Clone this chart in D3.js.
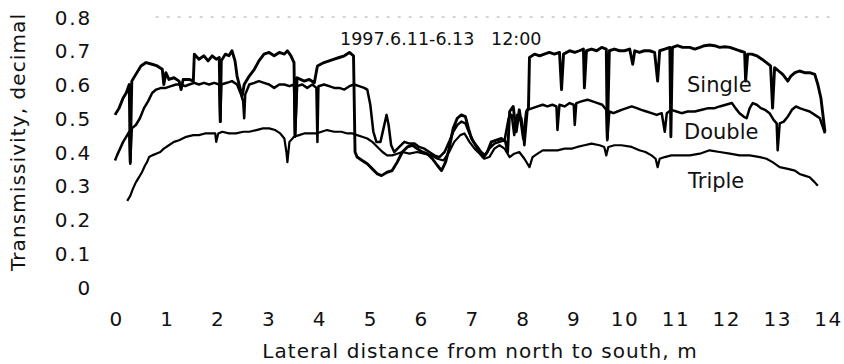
<!DOCTYPE html>
<html>
<head>
<meta charset="utf-8">
<script src="https://cdn.jsdelivr.net/npm/d3@7"></script>
<style>
  html, body { margin: 0; padding: 0; background: #fff; }
  text { font-family: "DejaVu Sans", sans-serif; fill: #111; }
</style>
</head>
<body>
<div id="chart"></div>
<script>
// tick labels
const xTicks = [0,1,2,3,4,5,6,7,8,9,10,11,12,13,14];
const yTicks = [0,0.1,0.2,0.3,0.4,0.5,0.6,0.7,0.8];

// [distance m, transmissivity]
const single = [
  [0.0,0.51],[0.08,0.53],[0.16,0.56],[0.22,0.575],[0.28,0.60],[0.30,0.37],[0.33,0.61],[0.41,0.63],
  [0.51,0.655],[0.61,0.665],[0.73,0.66],[0.83,0.655],[0.93,0.645],[0.96,0.60],[1.0,0.635],[1.06,0.615],
  [1.16,0.62],[1.26,0.61],[1.30,0.585],[1.34,0.615],[1.46,0.615],[1.54,0.61],[1.56,0.69],[1.65,0.675],
  [1.75,0.685],[1.83,0.67],[1.91,0.685],[1.99,0.675],[2.05,0.68],[2.07,0.49],[2.09,0.67],[2.17,0.69],
  [2.24,0.685],[2.30,0.70],[2.36,0.67],[2.40,0.625],[2.50,0.565],[2.54,0.60],[2.64,0.625],[2.74,0.645],
  [2.83,0.67],[2.93,0.69],[3.03,0.695],[3.13,0.685],[3.23,0.695],[3.33,0.69],[3.39,0.70],[3.46,0.685],
  [3.52,0.665],[3.54,0.45],[3.58,0.62],[3.72,0.61],[3.82,0.615],[3.92,0.605],[3.98,0.655],[4.11,0.665],
  [4.21,0.67],[4.31,0.675],[4.41,0.68],[4.51,0.685],[4.61,0.695],[4.69,0.685],[4.72,0.40],[4.76,0.385],
  [4.86,0.375],[4.96,0.365],[5.06,0.35],[5.16,0.335],[5.24,0.33],[5.35,0.34],[5.45,0.345],[5.55,0.37],
  [5.65,0.40],[5.75,0.415],[5.85,0.42],[5.94,0.41],[6.04,0.40],[6.14,0.395],[6.24,0.38],[6.34,0.36],
  [6.42,0.345],[6.50,0.37],[6.57,0.41],[6.65,0.47],[6.73,0.50],[6.81,0.51],[6.89,0.505],[6.95,0.47],
  [7.01,0.44],[7.09,0.42],[7.17,0.40],[7.24,0.385],[7.32,0.40],[7.40,0.43],[7.50,0.435],[7.60,0.44],
  [7.68,0.43],[7.72,0.40],[7.76,0.52],[7.83,0.535],[7.89,0.46],[7.95,0.525],[8.03,0.44],[8.09,0.52],
  [8.13,0.53],[8.15,0.68],[8.25,0.69],[8.35,0.685],[8.44,0.69],[8.54,0.695],[8.64,0.69],[8.74,0.695],
  [8.78,0.585],[8.82,0.69],[8.94,0.70],[9.04,0.695],[9.13,0.70],[9.21,0.705],[9.23,0.59],[9.27,0.70],
  [9.37,0.705],[9.47,0.70],[9.57,0.71],[9.66,0.705],[9.68,0.44],[9.72,0.70],[9.82,0.705],[9.92,0.70],
  [10.02,0.70],[10.12,0.705],[10.18,0.66],[10.22,0.70],[10.31,0.695],[10.41,0.70],[10.51,0.70],[10.61,0.695],
  [10.67,0.61],[10.71,0.70],[10.81,0.705],[10.91,0.71],[10.93,0.445],[10.96,0.71],[11.06,0.715],[11.16,0.71],
  [11.30,0.71],[11.40,0.705],[11.50,0.71],[11.59,0.715],[11.69,0.717],[11.79,0.715],[11.89,0.71],[11.99,0.712],
  [12.09,0.71],[12.19,0.705],[12.28,0.70],[12.38,0.695],[12.40,0.61],[12.44,0.69],[12.52,0.69],[12.62,0.685],
  [12.72,0.675],[12.81,0.665],[12.89,0.655],[12.93,0.53],[12.97,0.65],[13.05,0.64],[13.13,0.63],[13.23,0.61],
  [13.29,0.625],[13.37,0.635],[13.46,0.64],[13.56,0.635],[13.66,0.635],[13.76,0.63],[13.82,0.60],[13.88,0.56],
  [13.96,0.46]
];

const double = [
  [0.0,0.375],[0.04,0.39],[0.10,0.41],[0.16,0.43],[0.22,0.445],[0.28,0.46],[0.30,0.365],[0.33,0.47],
  [0.41,0.48],[0.49,0.50],[0.57,0.53],[0.65,0.55],[0.73,0.575],[0.81,0.585],[0.91,0.59],[1.0,0.59],
  [1.10,0.595],[1.20,0.60],[1.30,0.60],[1.38,0.595],[1.46,0.60],[1.56,0.605],[1.65,0.60],[1.75,0.605],
  [1.85,0.60],[1.95,0.605],[2.05,0.60],[2.07,0.49],[2.09,0.60],[2.20,0.605],[2.30,0.61],[2.40,0.60],
  [2.48,0.57],[2.52,0.55],[2.54,0.50],[2.56,0.57],[2.64,0.60],[2.74,0.605],[2.83,0.61],[2.93,0.605],
  [3.03,0.60],[3.13,0.59],[3.23,0.60],[3.33,0.60],[3.43,0.595],[3.52,0.60],[3.54,0.445],[3.58,0.595],
  [3.68,0.60],[3.78,0.59],[3.88,0.60],[3.96,0.59],[3.98,0.43],[4.00,0.595],[4.11,0.60],[4.21,0.595],
  [4.31,0.59],[4.41,0.59],[4.51,0.585],[4.61,0.595],[4.70,0.60],[4.80,0.595],[4.90,0.59],[4.96,0.585],
  [5.02,0.54],[5.08,0.46],[5.14,0.43],[5.22,0.43],[5.28,0.47],[5.34,0.51],[5.38,0.48],[5.43,0.42],
  [5.49,0.40],[5.59,0.415],[5.69,0.43],[5.79,0.425],[5.89,0.425],[5.98,0.415],[6.08,0.41],[6.18,0.40],
  [6.28,0.39],[6.38,0.385],[6.48,0.40],[6.57,0.43],[6.65,0.46],[6.73,0.48],[6.81,0.49],[6.89,0.485],
  [6.97,0.455],[7.05,0.43],[7.13,0.415],[7.20,0.40],[7.28,0.39],[7.36,0.41],[7.46,0.425],[7.56,0.43],
  [7.66,0.435],[7.74,0.50],[7.80,0.51],[7.85,0.45],[7.91,0.51],[7.99,0.50],[8.05,0.42],[8.11,0.525],
  [8.21,0.53],[8.31,0.535],[8.41,0.54],[8.50,0.535],[8.60,0.54],[8.68,0.535],[8.70,0.465],[8.74,0.54],
  [8.84,0.535],[8.94,0.545],[9.02,0.54],[9.04,0.48],[9.07,0.545],[9.17,0.55],[9.29,0.555],[9.39,0.55],
  [9.49,0.545],[9.58,0.54],[9.66,0.525],[9.68,0.435],[9.72,0.52],[9.80,0.515],[9.88,0.52],[9.96,0.525],
  [10.06,0.53],[10.16,0.535],[10.26,0.53],[10.35,0.525],[10.45,0.52],[10.55,0.515],[10.65,0.51],[10.75,0.515],
  [10.81,0.46],[10.85,0.515],[10.94,0.525],[11.04,0.52],[11.14,0.515],[11.26,0.52],[11.40,0.52],[11.54,0.525],
  [11.67,0.53],[11.79,0.53],[11.89,0.535],[12.01,0.54],[12.13,0.545],[12.20,0.53],[12.28,0.515],[12.36,0.505],
  [12.42,0.50],[12.48,0.53],[12.54,0.545],[12.62,0.54],[12.70,0.53],[12.78,0.525],[12.87,0.515],[12.95,0.495],
  [13.01,0.485],[13.03,0.405],[13.07,0.485],[13.15,0.49],[13.23,0.505],[13.31,0.525],[13.39,0.535],[13.46,0.53],
  [13.56,0.525],[13.66,0.52],[13.76,0.51],[13.86,0.50],[13.96,0.455]
];

const triple = [
  [0.24,0.255],[0.30,0.27],[0.35,0.29],[0.41,0.31],[0.47,0.325],[0.53,0.34],[0.59,0.36],[0.63,0.37],
  [0.67,0.385],[0.73,0.39],[0.81,0.395],[0.89,0.40],[0.96,0.41],[1.06,0.42],[1.16,0.43],[1.26,0.435],
  [1.40,0.445],[1.54,0.45],[1.65,0.45],[1.77,0.455],[1.89,0.455],[1.97,0.455],[1.99,0.43],[2.03,0.455],
  [2.11,0.46],[2.24,0.455],[2.38,0.455],[2.52,0.46],[2.64,0.46],[2.78,0.465],[2.91,0.47],[3.03,0.47],
  [3.15,0.465],[3.25,0.455],[3.33,0.44],[3.37,0.40],[3.39,0.37],[3.43,0.43],[3.52,0.445],[3.62,0.45],
  [3.72,0.455],[3.82,0.455],[3.96,0.455],[4.06,0.46],[4.17,0.465],[4.31,0.46],[4.45,0.46],[4.57,0.455],
  [4.67,0.455],[4.76,0.45],[4.86,0.445],[4.96,0.44],[5.06,0.43],[5.16,0.415],[5.26,0.40],[5.35,0.39],
  [5.45,0.39],[5.55,0.395],[5.65,0.40],[5.79,0.395],[5.94,0.40],[6.08,0.395],[6.22,0.39],[6.34,0.38],
  [6.46,0.375],[6.57,0.40],[6.67,0.43],[6.79,0.45],[6.87,0.455],[6.97,0.43],[7.07,0.41],[7.17,0.395],
  [7.26,0.38],[7.36,0.385],[7.46,0.41],[7.56,0.42],[7.66,0.41],[7.76,0.385],[7.85,0.395],[7.95,0.40],
  [8.05,0.38],[8.15,0.355],[8.21,0.385],[8.31,0.395],[8.41,0.405],[8.54,0.405],[8.70,0.405],[8.84,0.41],
  [8.98,0.41],[9.09,0.415],[9.23,0.42],[9.37,0.425],[9.53,0.42],[9.62,0.415],[9.66,0.39],[9.70,0.415],
  [9.82,0.42],[9.96,0.42],[10.16,0.415],[10.31,0.405],[10.43,0.40],[10.55,0.39],[10.63,0.38],[10.67,0.355],
  [10.71,0.38],[10.81,0.385],[10.94,0.39],[11.10,0.39],[11.30,0.39],[11.50,0.395],[11.69,0.405],[11.89,0.40],
  [12.09,0.395],[12.28,0.39],[12.48,0.39],[12.68,0.385],[12.81,0.38],[12.93,0.37],[13.07,0.355],[13.23,0.35],
  [13.37,0.345],[13.46,0.335],[13.56,0.33],[13.66,0.325],[13.76,0.31],[13.82,0.30]
];

const W = 844, H = 364;

const svg = d3.select("#chart")
  .append("svg")
  .attr("width", W)
  .attr("height", H);

const x = d3.scaleLinear().domain([0, 14]).range([115, 827]);
const y = d3.scaleLinear().domain([0, 0.8]).range([287, 17]);

// faint top frame line
svg.append("line")
  .attr("x1", x(0.8)).attr("x2", x(14.1))
  .attr("y1", y(0.8)).attr("y2", y(0.8))
  .attr("stroke", "#aaa")
  .attr("stroke-width", 1)
  .attr("stroke-dasharray", "3,8");

// x axis (labels only)
const xAxis = svg.append("g")
  .attr("transform", "translate(0,311)")
  .call(d3.axisBottom(x).tickValues(xTicks).tickSize(0).tickPadding(0));
xAxis.select(".domain").remove();
xAxis.selectAll("text")
  .attr("dy", "0.75em")
  .attr("dx", "0.05em")
  .style("font-family", "DejaVu Sans")
  .style("font-size", "20px")
  .style("letter-spacing", "1.5px")
  .attr("fill", "#111");

// y axis (labels only)
const yAxis = svg.append("g")
  .attr("transform", "translate(92,0)")
  .call(d3.axisLeft(y).tickValues(yTicks).tickSize(0).tickPadding(0)
    .tickFormat(d => d === 0 ? "0" : d.toFixed(1)));
yAxis.select(".domain").remove();
yAxis.selectAll("text")
  .attr("dy", "0.36em")
  .style("font-family", "DejaVu Sans")
  .style("font-size", "20px")
  .style("letter-spacing", "1.8px")
  .attr("fill", "#111");

// axis titles
svg.append("text")
  .attr("x", 480).attr("y", 358)
  .attr("text-anchor", "middle")
  .style("font-size", "20px")
  .style("letter-spacing", "1.05px")
  .text("Lateral distance from north to south, m");

svg.append("text")
  .attr("transform", "translate(25,142) rotate(-90)")
  .attr("text-anchor", "middle")
  .style("font-size", "20px")
  .style("letter-spacing", "1.1px")
  .text("Transmissivity, decimal");

// lines
const line = d3.line()
  .x(d => x(d[0]))
  .y(d => y(d[1]));

const series = [
  { data: single, w: 2.9 },
  { data: double, w: 2.5 },
  { data: triple, w: 2.2 }
];

svg.selectAll(".series")
  .data(series)
  .enter()
  .append("path")
  .attr("class", "series")
  .attr("fill", "none")
  .attr("stroke", "#000")
  .attr("stroke-width", d => d.w)
  .attr("stroke-linejoin", "round")
  .attr("d", d => line(d.data));

// annotation
svg.append("text").attr("x", 340).attr("y", 45)
  .style("font-size", "17.5px").text("1997.6.11-6.13");
svg.append("text").attr("x", 491).attr("y", 45)
  .style("font-size", "17.5px").text("12:00");

// series labels
svg.append("text").attr("x", 687).attr("y", 92).style("font-size", "21px").text("Single");
svg.append("text").attr("x", 684).attr("y", 139).style("font-size", "21px").text("Double");
svg.append("text").attr("x", 688).attr("y", 188).style("font-size", "21px").text("Triple");
</script>
</body>
</html>
